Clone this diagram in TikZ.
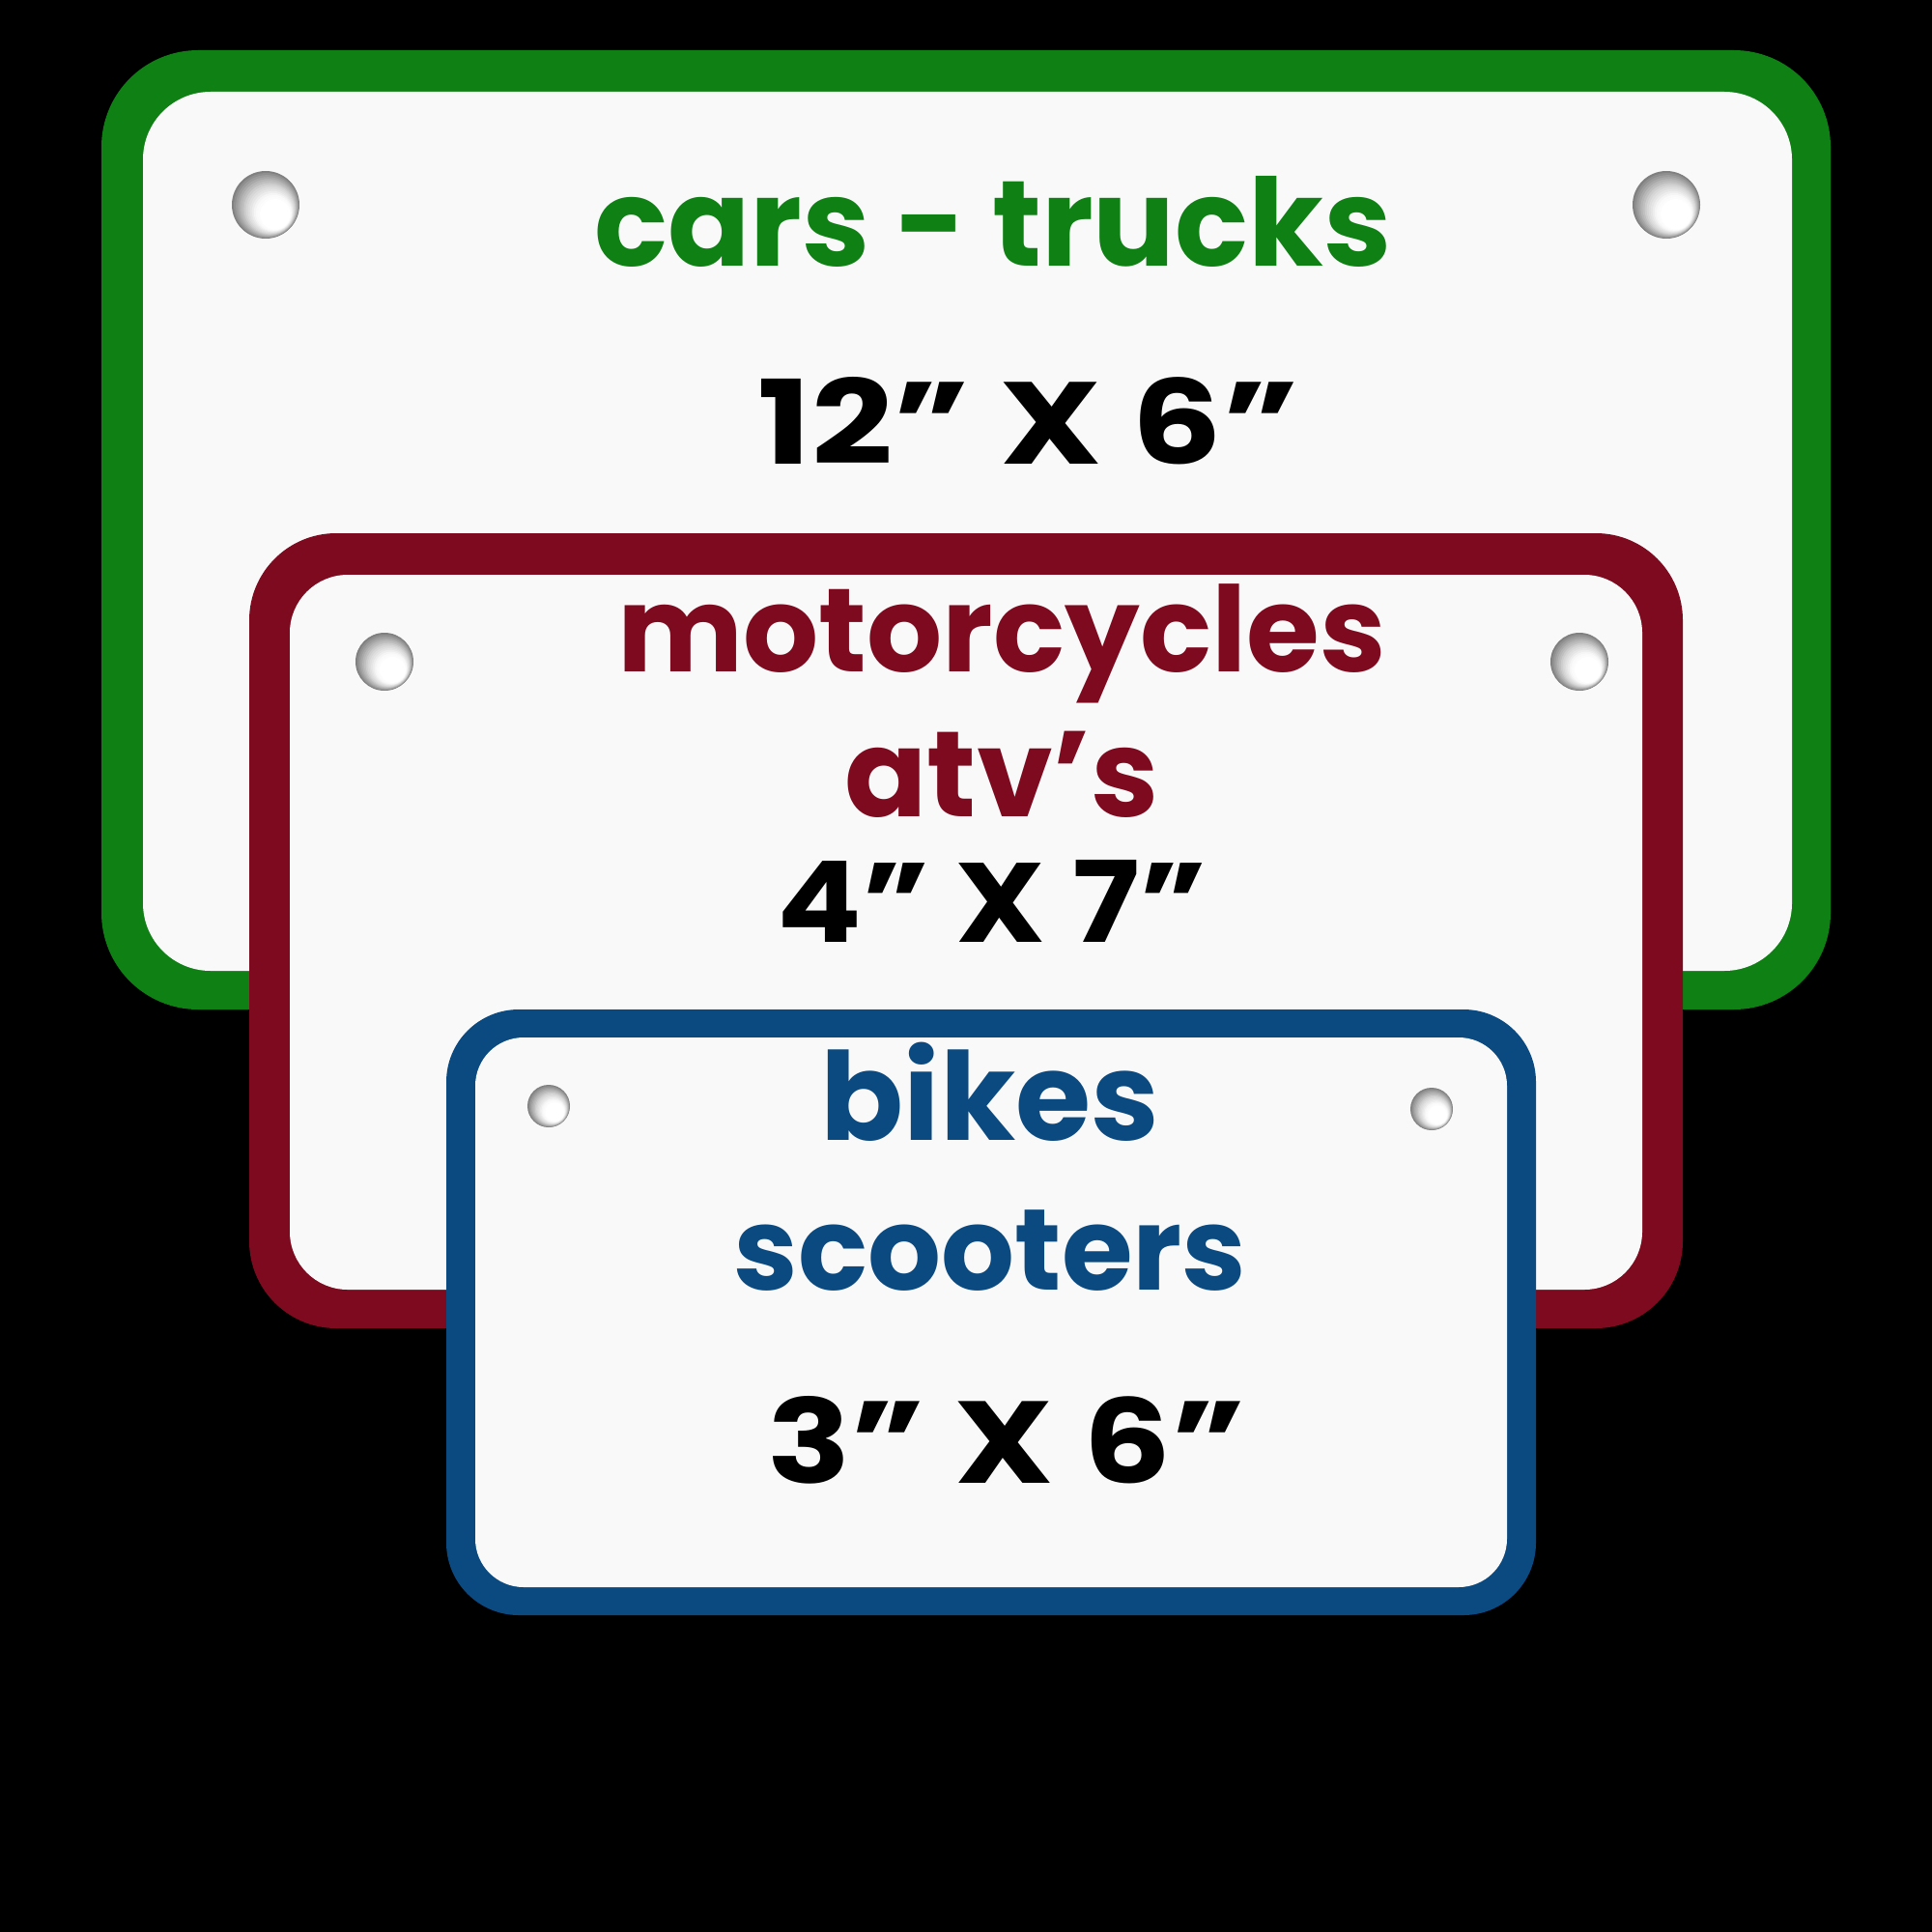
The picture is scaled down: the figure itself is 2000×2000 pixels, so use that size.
\documentclass[tikz,border=0pt]{standalone}
\usepackage{fontspec}
\newfontfamily\platefont{Poppins}[UprightFont=* Bold]
\definecolor{pgreen}{HTML}{0E8014}
\definecolor{pred}{HTML}{7E0A1F}
\definecolor{pblue}{HTML}{0B4A80}
\definecolor{pwhite}{HTML}{F9F9F9}
\tikzset{
  lbl/.style={anchor=base, inner sep=0pt, font=\platefont},
}
\newcommand{\platehole}[3]{%
  \foreach \i in {0,...,14}{%
    \pgfmathsetmacro{\tt}{\i/14}%
    \pgfmathsetmacro{\gg}{int(round(50*(1-\tt)^1.6))}%
    \fill[black!\gg!white] ({#1+0.28*#3*\tt},{#2+0.28*#3*\tt}) circle ({#3*(1-0.55*\tt)});
  }}
\newcommand{\fitw}[2]{\resizebox{#1}{!}{#2}}
\newcommand{\fitwh}[3]{\resizebox{#1}{#2}{#3}}
\begin{document}
\begin{tikzpicture}[x=0.01cm,y=-0.01cm]
\useasboundingbox (0,0) rectangle (2000,2000);
\fill[black] (0,0) rectangle (2000,2000);
% green plate
\fill[pgreen, rounded corners=1cm] (105,52) rectangle (1895,1045);
\fill[pwhite, rounded corners=0.7cm] (148,95) rectangle (1855,1005);
\platehole{275}{212}{35}
\platehole{1725}{212}{35}
% red plate
\fill[pred, rounded corners=0.9cm] (258,552) rectangle (1742,1375);
\fill[pwhite, rounded corners=0.6cm] (300,595) rectangle (1700,1335);
\platehole{398}{685}{30}
\platehole{1635}{685}{30}
% blue plate
\fill[pblue, rounded corners=0.75cm] (462,1045) rectangle (1590,1672);
\fill[pwhite, rounded corners=0.5cm] (492,1074) rectangle (1560,1643);
\platehole{568}{1145}{22}
\platehole{1482}{1148}{22}
% texts
\node[lbl, text=pgreen] (t1) at (1028,275) {\fitw{8.25cm}{cars - trucks}};
\node[lbl, text=black] (d1) at (1065,480) {\fitwh{5.6cm}{0.9cm}{12” X 6”}};
\node[lbl, text=pred] (t2) at (1037,695) {\fitw{7.95cm}{motorcycles}};
\node[lbl, text=pred] (t3) at (1037,845) {\fitw{3.25cm}{atv’s}};
\node[lbl, text=black] (d2) at (1027,975) {\fitwh{4.45cm}{0.85cm}{4” X 7”}};
\node[lbl, text=pblue] (t4) at (1025,1180) {\fitw{3.5cm}{bikes}};
\node[lbl, text=pblue] (t5) at (1025,1335) {\fitw{5.3cm}{scooters}};
\node[lbl, text=black] (d3) at (1042,1535) {\fitwh{4.95cm}{0.9cm}{3” X 6”}};
\end{tikzpicture}
\end{document}
